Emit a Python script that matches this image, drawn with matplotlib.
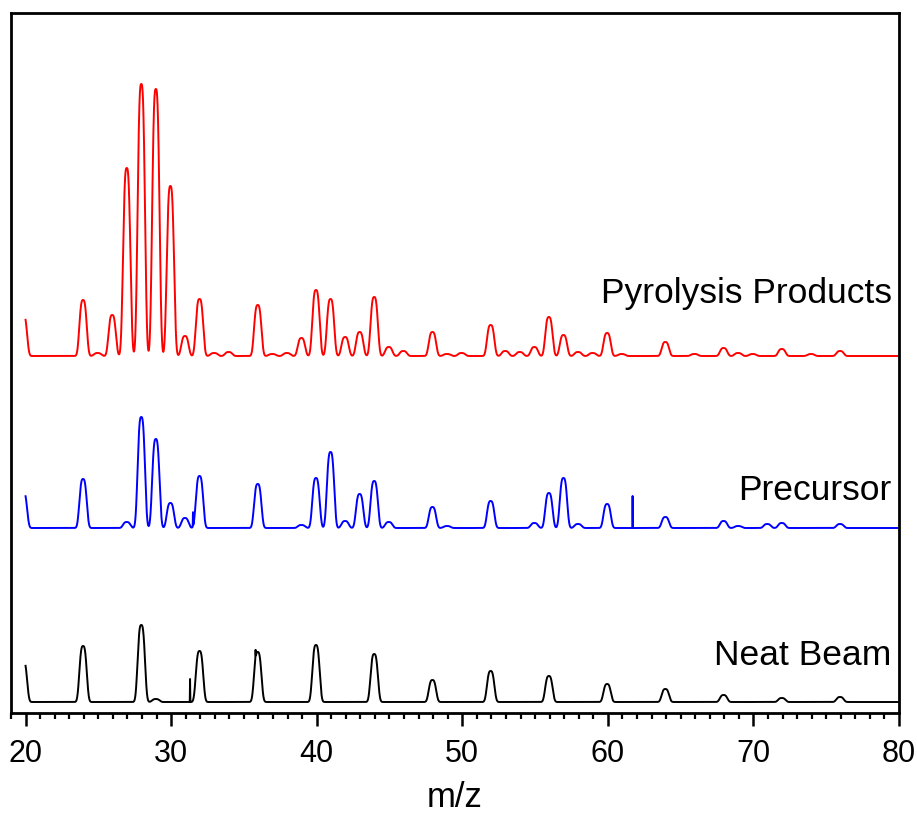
import numpy as np
import matplotlib
matplotlib.use("Agg")
import matplotlib.pyplot as plt
from matplotlib.ticker import MultipleLocator

plt.rcParams['font.family'] = ['Liberation Sans', 'DejaVu Sans']

# ---- data: peak centres (m/z) and heights (arbitrary intensity) ----
neat_mz = [19.9, 24, 28, 29, 32, 36, 40, 44, 48, 52, 56, 60, 64, 68, 72, 76]
neat_h = [41, 56, 77, 3, 51, 50, 57, 48, 22, 31, 26, 18, 13, 7, 4, 5]
neat_spike_mz = [31.3, 35.8]
neat_spike_h = [23, 8]

prec_mz = [19.9, 24, 27, 28, 29, 30, 31, 32, 36, 39, 40, 41, 42, 43, 44, 45,
           48, 49, 52, 55, 56, 57, 58, 60, 64, 68, 69, 71, 72, 76]
prec_h = [36, 49, 6, 111, 89, 25, 10, 52, 44, 3, 50, 76, 7, 34, 47, 6,
          21, 2, 27, 5, 35, 50, 4, 24, 11, 7, 2, 4, 5, 4]
prec_spike_mz = [31.5, 61.7]
prec_spike_h = [14, 32]

pyro_mz = [19.9, 24, 25, 26, 27, 28, 29, 30, 31, 32, 33, 34, 36, 37, 38, 39,
           40, 41, 42, 43, 44, 45, 46, 48, 49, 50, 52, 53, 54, 55, 56, 57,
           58, 59, 60, 61, 64, 66, 68, 69, 70, 72, 74, 76]
pyro_h = [41, 56, 3, 41, 188, 272, 267, 170, 20, 57, 3, 4, 51, 2, 3, 18,
          66, 57, 19, 24, 59, 9, 5, 24, 2, 3, 31, 5, 4, 9, 39, 21,
          4, 3, 23, 2, 14, 2, 8, 3, 2, 7, 2, 5]
pyro_spike_mz = []
pyro_spike_h = []

offsets = [0, 174, 346]
labels = ["Neat Beam", "Precursor", "Pyrolysis Products"]
label_y = [37, 202, 399]
colors = ["black", "#0000ff", "#ff0000"]

x = np.arange(20.0, 80.0001, 0.005)


def spectrum(mz, h, smz, sh):
    y = np.zeros_like(x)
    for c, a in zip(mz, h):
        y += a * np.exp(-np.abs((x - (c - 0.05)) / 0.3) ** 3)
    for c, a in zip(smz, sh):
        y += a * np.exp(-((x - c) / 0.012) ** 2)
    return y


series = [
    spectrum(neat_mz, neat_h, neat_spike_mz, neat_spike_h),
    spectrum(prec_mz, prec_h, prec_spike_mz, prec_spike_h),
    spectrum(pyro_mz, pyro_h, pyro_spike_mz, pyro_spike_h),
]

fig = plt.figure(figsize=(9.17, 8.17), dpi=100)
ax = fig.add_axes([11 / 917, 1 - 713 / 817, (899 - 11) / 917, (713 - 13) / 817])

for y, off, col, lab, ly in zip(series, offsets, colors, labels, label_y):
    ax.plot(x, y + off, color=col, lw=1.4)
    ax.text(79.5, ly, lab, ha="right", va="baseline", fontsize=25.5)

ax.set_xlim(19, 80)
ax.set_ylim(-11, 689)
ax.set_yticks([])
ax.xaxis.set_major_locator(MultipleLocator(10))
ax.xaxis.set_minor_locator(MultipleLocator(1))
ax.tick_params(axis="x", which="major", direction="out", length=9.5, width=1.8,
               labelsize=22, pad=9)
ax.tick_params(axis="x", which="minor", direction="out", length=4, width=1.6)
for s in ax.spines.values():
    s.set_linewidth(2)
ax.set_xlabel("m/z", fontsize=25, labelpad=9)

fig.savefig("out.png", dpi=100)
